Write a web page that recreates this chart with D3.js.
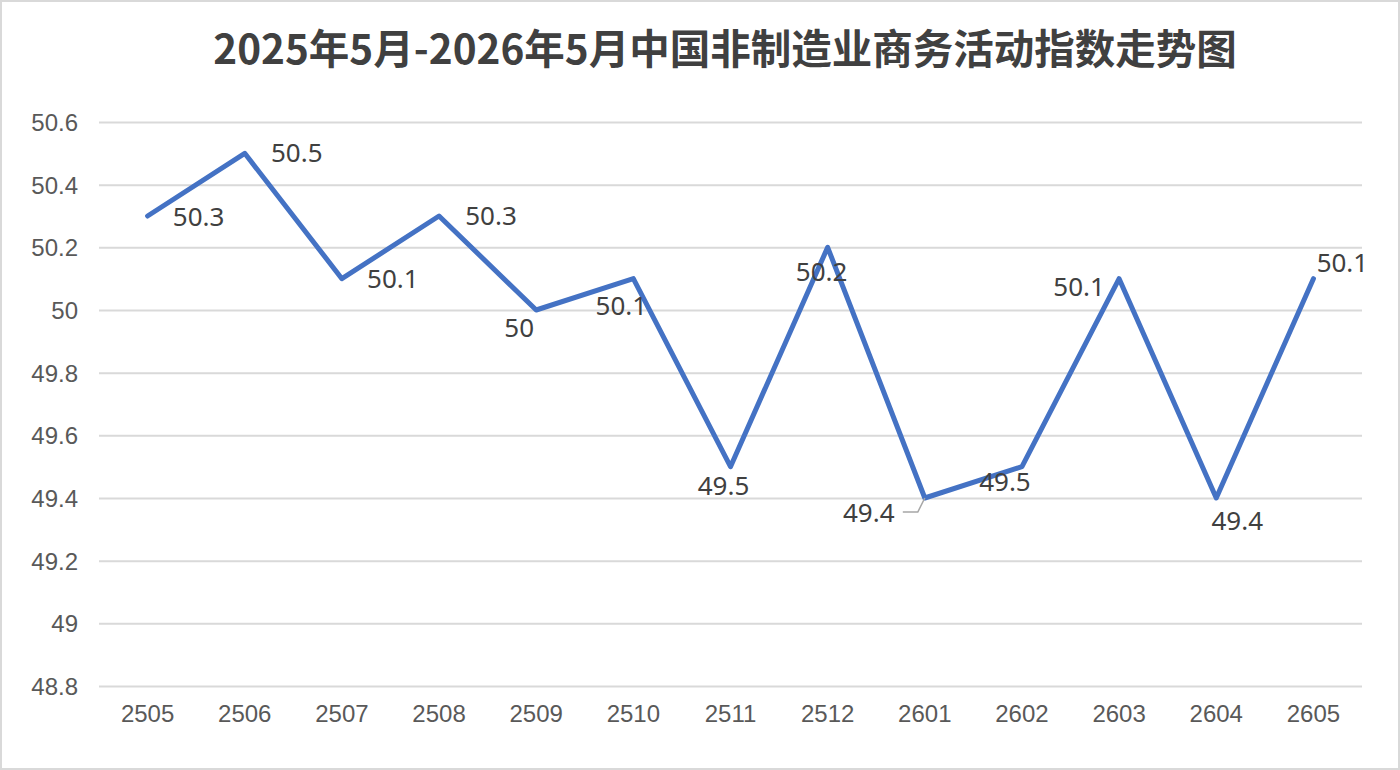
<!DOCTYPE html>
<html>
<head>
<meta charset="utf-8">
<script src="https://cdn.jsdelivr.net/npm/d3@7"></script>
<style>
  body { margin: 0; background: #fff; }
  svg { display: block; }
</style>
</head>
<body>
<div id="chart-area"></div>
<script>
// data
const months = ["2505","2506","2507","2508","2509","2510","2511","2512","2601","2602","2603","2604","2605"]
const values = [50.3, 50.5, 50.1, 50.3, 50.0, 50.1, 49.5, 50.2, 49.4, 49.5, 50.1, 49.4, 50.1]
const yTicks = [48.8, 49, 49.2, 49.4, 49.6, 49.8, 50, 50.2, 50.4, 50.6]
const titleText = "2025年5月-2026年5月中国非制造业商务活动指数走势图"

// where each data label sits relative to its point (px)
const labelOffsets = [[51, 1], [52, 0], [51, 0], [52, 0], [-17, 18], [-12, 27], [-7, 19], [-6, 25],
                      [-56, 15], [-17, 15], [-40, 8], [21, 23], [29, -16]]

const W = 1400, H = 770
const margin = { top: 122, right: 38, bottom: 84, left: 99 }
const width = W - margin.left - margin.right,
      height = H - margin.top - margin.bottom

const svg = d3.select("#chart-area").append("svg")
    .attr("width", W)
    .attr("height", H)
    .style("font-family", "'Noto Sans', 'DejaVu Sans', sans-serif")

// outer frame
svg.append("rect")
    .attr("x", 1).attr("y", 1)
    .attr("width", W - 2).attr("height", H - 2)
    .attr("fill", "#fff")
    .attr("stroke", "#d9d9d9")
    .attr("stroke-width", 2)

svg.append("text")
    .attr("x", 725)
    .attr("y", 64)
    .attr("text-anchor", "middle")
    .attr("font-family", "'Noto Sans CJK SC', sans-serif")
    .attr("font-weight", "bold")
    .attr("font-size", "40.5px")
    .attr("fill", "#404040")
    .text(titleText)

const g = svg.append("g")
    .attr("transform", "translate(" + margin.left + "," + margin.top + ")")

const x = d3.scaleBand()
    .domain(months)
    .range([0, width])

const y = d3.scaleLinear()
    .domain([48.8, 50.6])
    .range([height, 0])

// gridlines + y labels
const yAxisCall = d3.axisLeft(y)
    .tickValues(yTicks)
    .tickSize(-width)
    .tickFormat(d3.format("~g"))
const yAxis = g.append("g")
    .attr("class", "y-axis")
    .call(yAxisCall)
yAxis.select(".domain").remove()
yAxis.selectAll("line").attr("stroke", "#d9d9d9").attr("stroke-width", 2)
yAxis.selectAll("text")
    .attr("x", -21)
    .attr("dy", "0.35em")
    .attr("fill", "#595959")
    .attr("font-size", "24px")

const xAxisCall = d3.axisBottom(x).tickSize(0)
const xAxis = g.append("g")
    .attr("class", "x axis")
    .attr("transform", "translate(0," + height + ")")
    .call(xAxisCall)
xAxis.select(".domain").remove()
xAxis.selectAll("text")
    .attr("y", 28)
    .attr("dy", "0.35em")
    .attr("fill", "#595959")
    .attr("font-size", "24px")

const cx = function(d, i){ return x(months[i]) + x.bandwidth() / 2 }

const line = d3.line()
    .x(cx)
    .y(function(d){ return y(d) })

g.append("path")
    .datum(values)
    .attr("fill", "none")
    .attr("stroke", "#4472c4")
    .attr("stroke-width", 5)
    .attr("stroke-linejoin", "round")
    .attr("stroke-linecap", "round")
    .attr("d", line)

// leader line for the 2601 label
const li = 8
g.append("polyline")
    .attr("points", [
        [cx(values[li], li), y(values[li])],
        [cx(values[li], li) - 7, y(values[li]) + 14],
        [cx(values[li], li) - 22, y(values[li]) + 14]
    ].join(" "))
    .attr("fill", "none")
    .attr("stroke", "#a6a6a6")
    .attr("stroke-width", 1.5)

g.selectAll(".label")
    .data(values)
    .enter()
    .append("text")
        .attr("class", "label")
        .attr("x", function(d, i){ return cx(d, i) + labelOffsets[i][0] })
        .attr("y", function(d, i){ return y(d) + labelOffsets[i][1] })
        .attr("dy", "0.35em")
        .attr("text-anchor", "middle")
        .attr("fill", "#404040")
        .attr("font-size", "26px")
        .text(function(d){ return d3.format("~g")(d) })
</script>
</body>
</html>
